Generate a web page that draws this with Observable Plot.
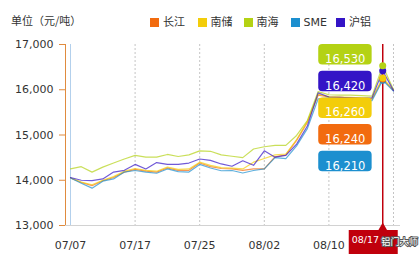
<!DOCTYPE html>
<html><head><meta charset="utf-8">
<script src="https://cdn.jsdelivr.net/npm/d3@7"></script>
<script src="https://cdn.jsdelivr.net/npm/@observablehq/plot@0.6"></script>
<style>
body{margin:0;background:#fff;width:419px;height:263px;overflow:hidden;font-family:"DejaVu Sans","Noto Sans CJK SC",sans-serif;}
#head{position:relative;height:36px;}
#title{position:absolute;left:11px;top:12px;font-size:11px;line-height:16px;color:#333;font-family:"Noto Sans CJK SC",sans-serif;white-space:nowrap}
.li{position:absolute;top:14.5px;display:flex;align-items:center;font-size:11px;line-height:16px;color:#333;font-family:"DejaVu Sans","Noto Sans CJK SC",sans-serif;white-space:nowrap}
.sw{width:9px;height:9px;margin-right:4px;display:inline-block}
</style></head><body>
<div id="head"><div id="title">单位（元/吨）</div></div>
<div id="chart"></div>
<script>
// ---- data ----
const dates = ["07/07","07/10","07/11","07/12","07/13","07/14","07/17","07/18","07/19","07/20","07/21","07/24","07/25","07/26","07/27","07/28","07/31","08/01","08/02","08/03","08/04","08/07","08/08","08/09","08/10","08/11","08/14","08/15","08/16","08/17","08/18"];
const seriesNames = ["长江","南储","南海","SME","沪铝"];
const seriesColors = ["#f26b0f","#f3cd0a","#b4d214","#1c8fcf","#3414c6"];
const changjiang = [14050,13950,13880,13990,14060,14180,14240,14200,14180,14270,14220,14220,14380,14300,14260,14250,14220,14250,14250,14520,14560,14880,15280,15880,15840,15830,15820,15810,15790,16240,15980];
const nanchu     = [14050,13960,13900,14000,14080,14200,14260,14220,14200,14290,14240,14250,14400,14330,14280,14270,14250,14400,14480,14560,14580,14900,15300,15900,15850,15840,15830,15820,15810,16260,15990];
const nanhai     = [14250,14300,14180,14290,14380,14470,14550,14510,14510,14570,14525,14560,14650,14640,14560,14530,14500,14690,14740,14770,14770,14990,15320,15960,15890,15880,15880,15870,15860,16530,16000];
const sme        = [14050,13935,13825,13980,14030,14180,14215,14180,14155,14250,14190,14180,14350,14270,14210,14215,14160,14215,14250,14500,14480,14760,15140,15800,15820,15800,15790,15780,15760,16210,15970];
const hulv       = [14060,14000,13990,14030,14180,14220,14350,14250,14390,14350,14350,14380,14470,14440,14360,14310,14430,14330,14650,14510,14550,14800,15200,15930,15840,15830,15820,15810,15820,16420,15980];
const yTicks = [13000,14000,15000,16000,17000];
const xTickIdx = [0,6,12,18,24];
const hoverIdx = 29;
const watermark = "铝门大师";

// ---- legend ----
const legendX = [150,197.5,243.5,290.5,336];
const head = document.getElementById("head");
seriesNames.forEach((n,k)=>{
  const d = document.createElement("div");
  d.className="li"; d.style.left = legendX[k]+"px";
  d.innerHTML = `<span class="sw" style="background:${seriesColors[k]}"></span><span>${n}</span>`;
  head.appendChild(d);
});

// ---- build ----
const allValues = [changjiang,nanchu,nanhai,sme,hulv];
const rows = allValues.flatMap((vals,k)=>vals.map((v,i)=>({i, v, name:seriesNames[k]})));
const labels = seriesNames.map((n,k)=>({name:n, color:seriesColors[k], v:allValues[k][hoverIdx], i:hoverIdx}))
  .sort((a,b)=>b.v-a.v);
const fmt = d3.format(",");
const W=419, H=227, mT=8, mB=38, mL=65, mR=26;
const frameH = H-mT-mB;
const red = "#c0000c";
const boxStep = 26.7, boxH = 20.5;

const boxMarks = labels.flatMap((l,k)=>[
  Plot.rect([l], {x1:"i", x2:"i", fill:"color", rx:4,
    insetLeft:-64, insetRight:10.6, insetTop:k*boxStep, insetBottom:frameH-k*boxStep-boxH}),
  Plot.text([l], {x:"i", text:d=>fmt(d.v), frameAnchor:"top", dy:k*boxStep+boxH/2, dx:-37.5,
    fill:"white", fontSize:11.5, fontFamily:"DejaVu Sans"})
]);

const chart = Plot.plot({
  width:W, height:H, marginTop:mT, marginBottom:mB, marginLeft:mL, marginRight:mR,
  style:{fontFamily:"DejaVu Sans, Noto Sans CJK SC, sans-serif", fontSize:"11px", color:"#333", background:"#fff"},
  x:{type:"linear", domain:[0,dates.length-1], insetLeft:5},
  y:{domain:[yTicks[0], yTicks[yTicks.length-1]]},
  color:{domain:seriesNames, range:seriesColors},
  marks:[
    Plot.ruleX([0], {stroke:"#b3d0ec"}),
    Plot.ruleX([...xTickIdx.slice(1), dates.length-1], {stroke:"#c4c4c4", strokeDasharray:"2,2"}),
    Plot.ruleY([yTicks[0]], {stroke:"#d2d2d2", insetRight:-7}),
    Plot.ruleX([0], {stroke:"#e08b3e", dx:-5}),
    Plot.axisY({ticks:yTicks, tickFormat:fmt, tickSize:6, tickPadding:6, stroke:"#e08b3e", fill:"#333", label:null}),
    Plot.axisX({ticks:xTickIdx, tickFormat:i=>dates[i], tickSize:0, tickPadding:16, fill:"#333", label:null}),
    Plot.line(rows, {x:"i", y:"v", z:"name", stroke:"name", strokeWidth:1.2, strokeOpacity:0.7}),
    Plot.ruleX([hoverIdx], {stroke:red, strokeWidth:1.5}),
    Plot.dot([...labels].reverse(), {x:"i", y:"v", fill:"color", r:3.5}),
    ...boxMarks,
    Plot.rect([{i:hoverIdx}], {x1:"i", x2:"i", y1:()=>yTicks[0], y2:()=>yTicks[0], fill:red,
      insetLeft:-33.5, insetRight:-15.5, insetTop:5, insetBottom:-29}),
    Plot.dot([{i:hoverIdx}], {x:"i", y:()=>yTicks[0], symbol:"triangle", r:3.5, fill:red, dy:2.5}),
    Plot.text([{i:hoverIdx}], {x:"i", text:d=>dates[d.i], frameAnchor:"bottom", dy:17, dx:-31, textAnchor:"start", fill:"white", fontSize:9.5}),
    Plot.text([watermark], {x:()=>hoverIdx, text:d=>d, frameAnchor:"bottom", dy:19, dx:-1.5, textAnchor:"start", fill:"white",
      stroke:"#555", strokeWidth:2, paintOrder:"stroke", fontSize:9.2, fontFamily:"Noto Sans CJK SC"})
  ]
});
document.getElementById("chart").appendChild(chart);
</script>
</body></html>
